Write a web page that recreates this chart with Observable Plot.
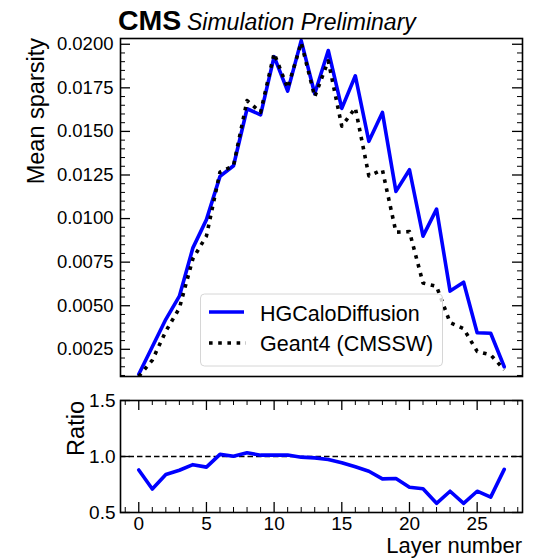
<!DOCTYPE html>
<html><head><meta charset="utf-8">
<script src="https://cdn.jsdelivr.net/npm/d3@7"></script>
<script src="https://cdn.jsdelivr.net/npm/@observablehq/plot@0.6"></script>
<style>
body{margin:0;background:#fff;}
#wrap{position:relative;width:536px;height:558px;overflow:hidden;font-family:"Liberation Sans",Arial,sans-serif;background:#fff;}
#wrap svg{position:absolute;left:0;}
</style></head><body>
<div id="wrap"></div>
<script>
// ---- data ----
const layers = [0,1,2,3,4,5,6,7,8,9,10,11,12,13,14,15,16,17,18,19,20,21,22,23,24,25,26,27];
const hgcaloDiffusion = [0.00107,0.00265,0.00422,0.00555,0.00832,0.00994,0.01242,0.01303,0.01630,0.01595,
  0.01929,0.01731,0.02021,0.01716,0.01964,0.01632,0.01819,0.01443,0.01609,0.01156,
  0.01280,0.00899,0.01054,0.00584,0.00635,0.00345,0.00342,0.00150];
const geant4 = [0.00094,0.00188,0.00354,0.00486,0.00770,0.00900,0.01267,0.01303,0.01677,0.01610,
  0.01948,0.01748,0.02009,0.01699,0.01905,0.01530,0.01635,0.01245,0.01280,0.00922,
  0.00925,0.00630,0.00611,0.00403,0.00368,0.00238,0.00218,0.00133];
const ratio = [0.880,0.710,0.840,0.877,0.927,0.905,1.019,1.002,1.033,1.012,
  1.012,1.013,0.994,0.988,0.973,0.945,0.908,0.868,0.800,0.803,
  0.725,0.712,0.582,0.690,0.582,0.690,0.637,0.885];
const yMajor = [0.0025,0.0050,0.0075,0.0100,0.0125,0.0150,0.0175,0.0200];
const yMinor = [0.0010,0.0015,0.0020,0.0030,0.0035,0.0040,0.0045,0.0055,0.0060,0.0065,0.0070,
  0.0080,0.0085,0.0090,0.0095,0.0105,0.0110,0.0115,0.0120,0.0130,0.0135,0.0140,0.0145,
  0.0155,0.0160,0.0165,0.0170,0.0180,0.0185,0.0190,0.0195];
const xMajor = [0,5,10,15,20,25];
const xMinor = [-1,1,2,3,4,6,7,8,9,11,12,13,14,16,17,18,19,21,22,23,24,26,27,28];
const rMajor = [0.5,1.0,1.5];

const rows = layers.map((l,i)=>({layer:l, hg:hgcaloDiffusion[i], g4:geant4[i], ratio:ratio[i]}));

const W = 536, mL = 120, mR = 14;
const fw = W - mL - mR;
const font = "Liberation Sans, Arial, sans-serif";
const xDomain = [-1.35, 28.35];

// ---- top panel ----
const topH = 385, tT = 38, tB = 9;
const topPlot = Plot.plot({
  width: W, height: topH, marginLeft: mL, marginRight: mR, marginTop: tT, marginBottom: tB,
  style: {fontFamily: font, color: "black", background: "transparent"},
  x: {domain: xDomain, axis: null},
  y: {domain: [0.00094, 0.02033]},
  marks: [
    Plot.line(rows, {x: "layer", y: "hg", stroke: "#0000ff", strokeWidth: 3.6, clip: true}),
    Plot.line(rows, {x: "layer", y: "g4", stroke: "black", strokeWidth: 3.6, strokeDasharray: "3.6,5.6", strokeLinecap: "butt", clip: true}),
    Plot.tickY(yMinor, {y: d => d, insetRight: fw - 5, stroke: "black", strokeWidth: 1}),
    Plot.tickY(yMinor, {y: d => d, insetLeft: fw - 5, stroke: "black", strokeWidth: 1}),
    Plot.tickY(yMajor, {y: d => d, insetRight: fw - 10, stroke: "black", strokeWidth: 1.3}),
    Plot.tickY(yMajor, {y: d => d, insetLeft: fw - 10, stroke: "black", strokeWidth: 1.3}),
    Plot.axisY({ticks: yMajor, tickSize: 0, tickPadding: 7, tickFormat: ".4f", fontSize: 18.5, label: null}),
    Plot.frame({stroke: "black", strokeWidth: 1.6})
  ]
});
topPlot.style.top = "0px";

// ---- ratio panel ----
const botTop = 385, botH = 173, bT = 15, bB = 46;
const fh = botH - bT - bB;
const botPlot = Plot.plot({
  width: W, height: botH, marginLeft: mL, marginRight: mR, marginTop: bT, marginBottom: bB,
  style: {fontFamily: font, color: "black", background: "transparent"},
  x: {domain: xDomain},
  y: {domain: [0.5, 1.5]},
  marks: [
    Plot.ruleY([1], {stroke: "black", strokeWidth: 1.5, strokeDasharray: "5.5,3"}),
    Plot.line(rows, {x: "layer", y: "ratio", stroke: "#0000ff", strokeWidth: 3.6}),
    Plot.tickX(xMinor, {x: d => d, insetTop: fh - 5, stroke: "black", strokeWidth: 1}),
    Plot.tickX(xMinor, {x: d => d, insetBottom: fh - 5, stroke: "black", strokeWidth: 1}),
    Plot.tickX(xMajor, {x: d => d, insetTop: fh - 10, stroke: "black", strokeWidth: 1.3}),
    Plot.tickX(xMajor, {x: d => d, insetBottom: fh - 10, stroke: "black", strokeWidth: 1.3}),
    Plot.tickY(rMajor, {y: d => d, insetRight: fw - 10, stroke: "black", strokeWidth: 1.3}),
    Plot.tickY(rMajor, {y: d => d, insetLeft: fw - 10, stroke: "black", strokeWidth: 1.3}),
    Plot.axisX({ticks: xMajor, tickSize: 0, tickPadding: 4, fontSize: 19, label: null}),
    Plot.axisY({ticks: rMajor, tickSize: 0, tickPadding: 5, tickFormat: ".1f", fontSize: 19, label: null}),
    Plot.frame({stroke: "black", strokeWidth: 1.6})
  ]
});
botPlot.style.top = botTop + "px";

const wrap = document.getElementById("wrap");
wrap.appendChild(topPlot);
wrap.appendChild(botPlot);

// ---- overlay: title, axis labels, legend ----
const ns = "http://www.w3.org/2000/svg";
const ov = document.createElementNS(ns, "svg");
ov.setAttribute("width", W); ov.setAttribute("height", 558);
ov.style.top = "0px";
ov.setAttribute("font-family", font);
ov.innerHTML = `
  <text x="118" y="30" font-size="28.5" font-weight="bold">CMS</text>
  <text x="187" y="30" font-size="23" font-style="italic">Simulation Preliminary</text>
  <text transform="translate(44,38) rotate(-90)" text-anchor="end" font-size="23.5">Mean sparsity</text>
  <text transform="translate(84,401) rotate(-90)" text-anchor="end" font-size="23.5">Ratio</text>
  <text x="522" y="553" text-anchor="end" font-size="22">Layer number</text>
  <rect x="200.5" y="294" width="242" height="72" rx="4" fill="white" fill-opacity="0.8" stroke="#d6d6d6" stroke-width="1"/>
  <line x1="209" x2="244" y1="312" y2="312" stroke="#0000ff" stroke-width="3.6"/>
  <text x="260" y="321" font-size="21.5">HGCaloDiffusion</text>
  <line x1="209" x2="246" y1="343" y2="343" stroke="black" stroke-width="3.6" stroke-dasharray="3.6,5.6"/>
  <text x="260" y="351" font-size="21.5">Geant4 (CMSSW)</text>
`;
wrap.appendChild(ov);
</script>
</body></html>
